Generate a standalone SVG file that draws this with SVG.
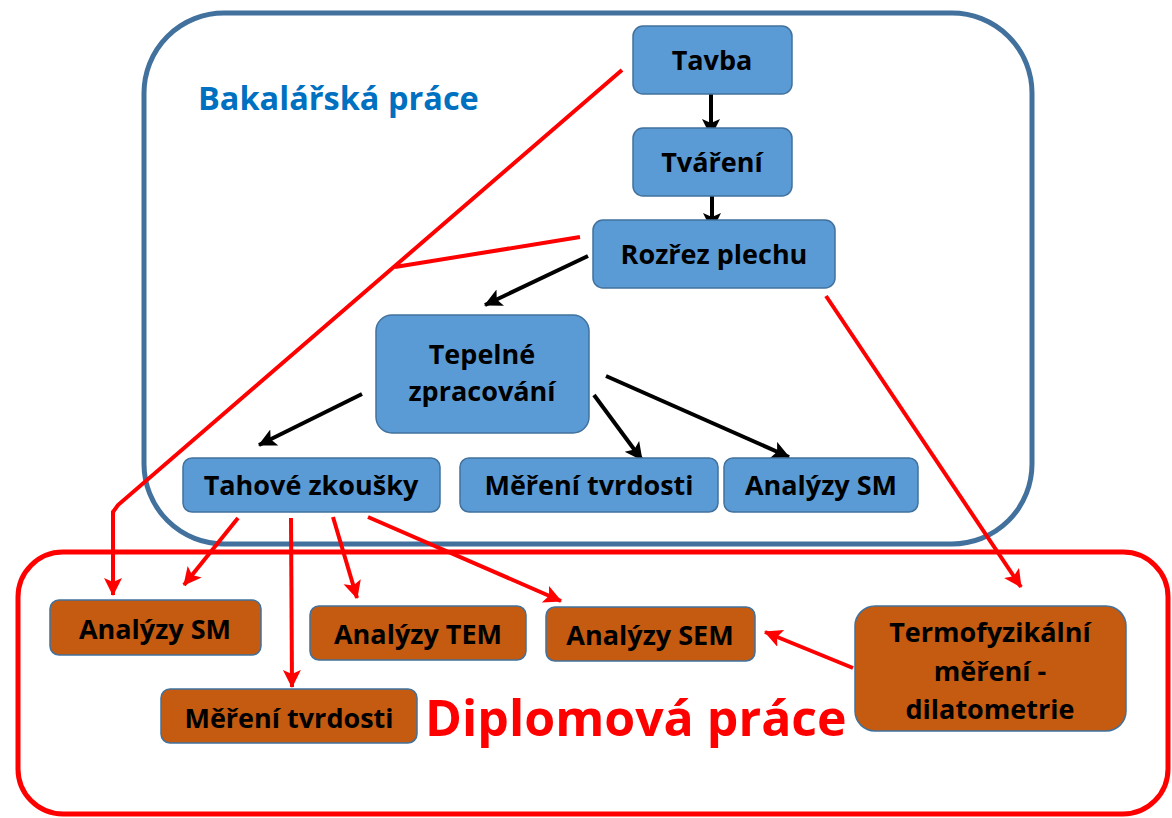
<svg xmlns="http://www.w3.org/2000/svg" width="1172" height="818" viewBox="0 0 1172 818">
<style>
.frameB{fill:none;stroke:#41719C;stroke-width:5}
.frameR{fill:none;stroke:#FF0000;stroke-width:5}
.nb{fill:#5B9BD5;stroke:#41719C;stroke-width:1.5}
.no{fill:#C55A11;stroke:#41719C;stroke-width:1.5}
.t{font-family:"Open Sans",Lato,sans-serif;font-weight:bold;font-size:27px;fill:#000;text-anchor:middle}
.bk{stroke:#000;stroke-width:4;fill:none}
.rd{stroke:#FF0000;stroke-width:4;fill:none}
</style>
<defs>
<marker id="ab" markerUnits="userSpaceOnUse" markerWidth="20" markerHeight="20" refX="17" refY="9" orient="auto"><path d="M0,0 L18,9 L0,18 L4,9 Z" fill="#000"/></marker>
<marker id="ar" markerUnits="userSpaceOnUse" markerWidth="20" markerHeight="20" refX="17" refY="9" orient="auto"><path d="M0,0 L18,9 L0,18 L4,9 Z" fill="#FF0000"/></marker>
</defs>
<rect width="1172" height="818" fill="#fff"/>
<rect id="bakalarska" class="frameB" x="144" y="13" width="888" height="531" rx="80"/>
<rect id="diplomova" class="frameR" x="18" y="552" width="1150" height="262" rx="45"/>
<text x="198" y="110" font-family="'Open Sans',Lato,sans-serif" font-weight="bold" font-size="32.5" fill="#0070C0">Bakalářská práce</text>
<text x="425" y="736" font-family="'Open Sans',Lato,sans-serif" font-weight="bold" font-size="50" fill="#FF0000">Diplomová práce</text>
<g id="connectors">
<line class="bk" x1="711" y1="87" x2="711" y2="136" marker-end="url(#ab)"/>
<line class="bk" x1="712" y1="180" x2="712" y2="230" marker-end="url(#ab)"/>
<line class="bk" x1="588" y1="256" x2="485" y2="305" marker-end="url(#ab)"/>
<line class="bk" x1="362" y1="394" x2="259" y2="445" marker-end="url(#ab)"/>
<line class="bk" x1="594" y1="395" x2="642" y2="460" marker-end="url(#ab)"/>
<line class="bk" x1="606" y1="376" x2="789" y2="457" marker-end="url(#ab)"/>
<polyline class="rd" points="622,70 118,505 113,512 113,595" marker-end="url(#ar)"/>
<line class="rd" x1="580" y1="237" x2="395" y2="267"/>
<line class="rd" x1="826" y1="296" x2="1021" y2="587" marker-end="url(#ar)"/>
<line class="rd" x1="238" y1="518" x2="184" y2="585" marker-end="url(#ar)"/>
<line class="rd" x1="291" y1="518" x2="292" y2="687" marker-end="url(#ar)"/>
<line class="rd" x1="333" y1="517" x2="357" y2="598" marker-end="url(#ar)"/>
<line class="rd" x1="368" y1="517" x2="561" y2="601" marker-end="url(#ar)"/>
<line class="rd" x1="853" y1="668" x2="765" y2="632" marker-end="url(#ar)"/>
</g>
<g id="tavba"><rect class="nb" x="633" y="26" width="159" height="68" rx="10"/><text class="t" x="712" y="70">Tavba</text></g>
<g id="tvareni"><rect class="nb" x="633" y="128" width="159" height="68" rx="10"/><text class="t" x="712" y="172">Tváření</text></g>
<g id="rozrez"><rect class="nb" x="593" y="220" width="242" height="68" rx="10"/><text class="t" x="714" y="264">Rozřez plechu</text></g>
<g id="tepelne"><rect class="nb" x="376" y="315" width="213" height="118" rx="16"/><text class="t" x="482" y="364">Tepelné</text><text class="t" x="482" y="401">zpracování</text></g>
<g id="tahove"><rect class="nb" x="183" y="458" width="257" height="54" rx="9"/><text class="t" x="311" y="495">Tahové zkoušky</text></g>
<g id="mereni-b"><rect class="nb" x="460" y="458" width="258" height="54" rx="9"/><text class="t" x="589" y="495">Měření tvrdosti</text></g>
<g id="analyzy-sm-b"><rect class="nb" x="724" y="458" width="194" height="54" rx="9"/><text class="t" x="821" y="495">Analýzy SM</text></g>
<g id="analyzy-sm-d"><rect class="no" x="50" y="600" width="211" height="55" rx="9"/><text class="t" x="155" y="639">Analýzy SM</text></g>
<g id="analyzy-tem"><rect class="no" x="310" y="606" width="216" height="54" rx="9"/><text class="t" x="418" y="644">Analýzy TEM</text></g>
<g id="analyzy-sem"><rect class="no" x="546" y="607" width="209" height="54" rx="9"/><text class="t" x="650" y="645">Analýzy SEM</text></g>
<g id="mereni-d"><rect class="no" x="161" y="689" width="256" height="54" rx="9"/><text class="t" x="289" y="728">Měření tvrdosti</text></g>
<g id="termo"><rect class="no" x="855" y="606" width="271" height="125" rx="20"/><text class="t" x="990" y="642">Termofyzikální</text><text class="t" x="990" y="681">měření -</text><text class="t" x="990" y="719">dilatometrie</text></g>
</svg>
